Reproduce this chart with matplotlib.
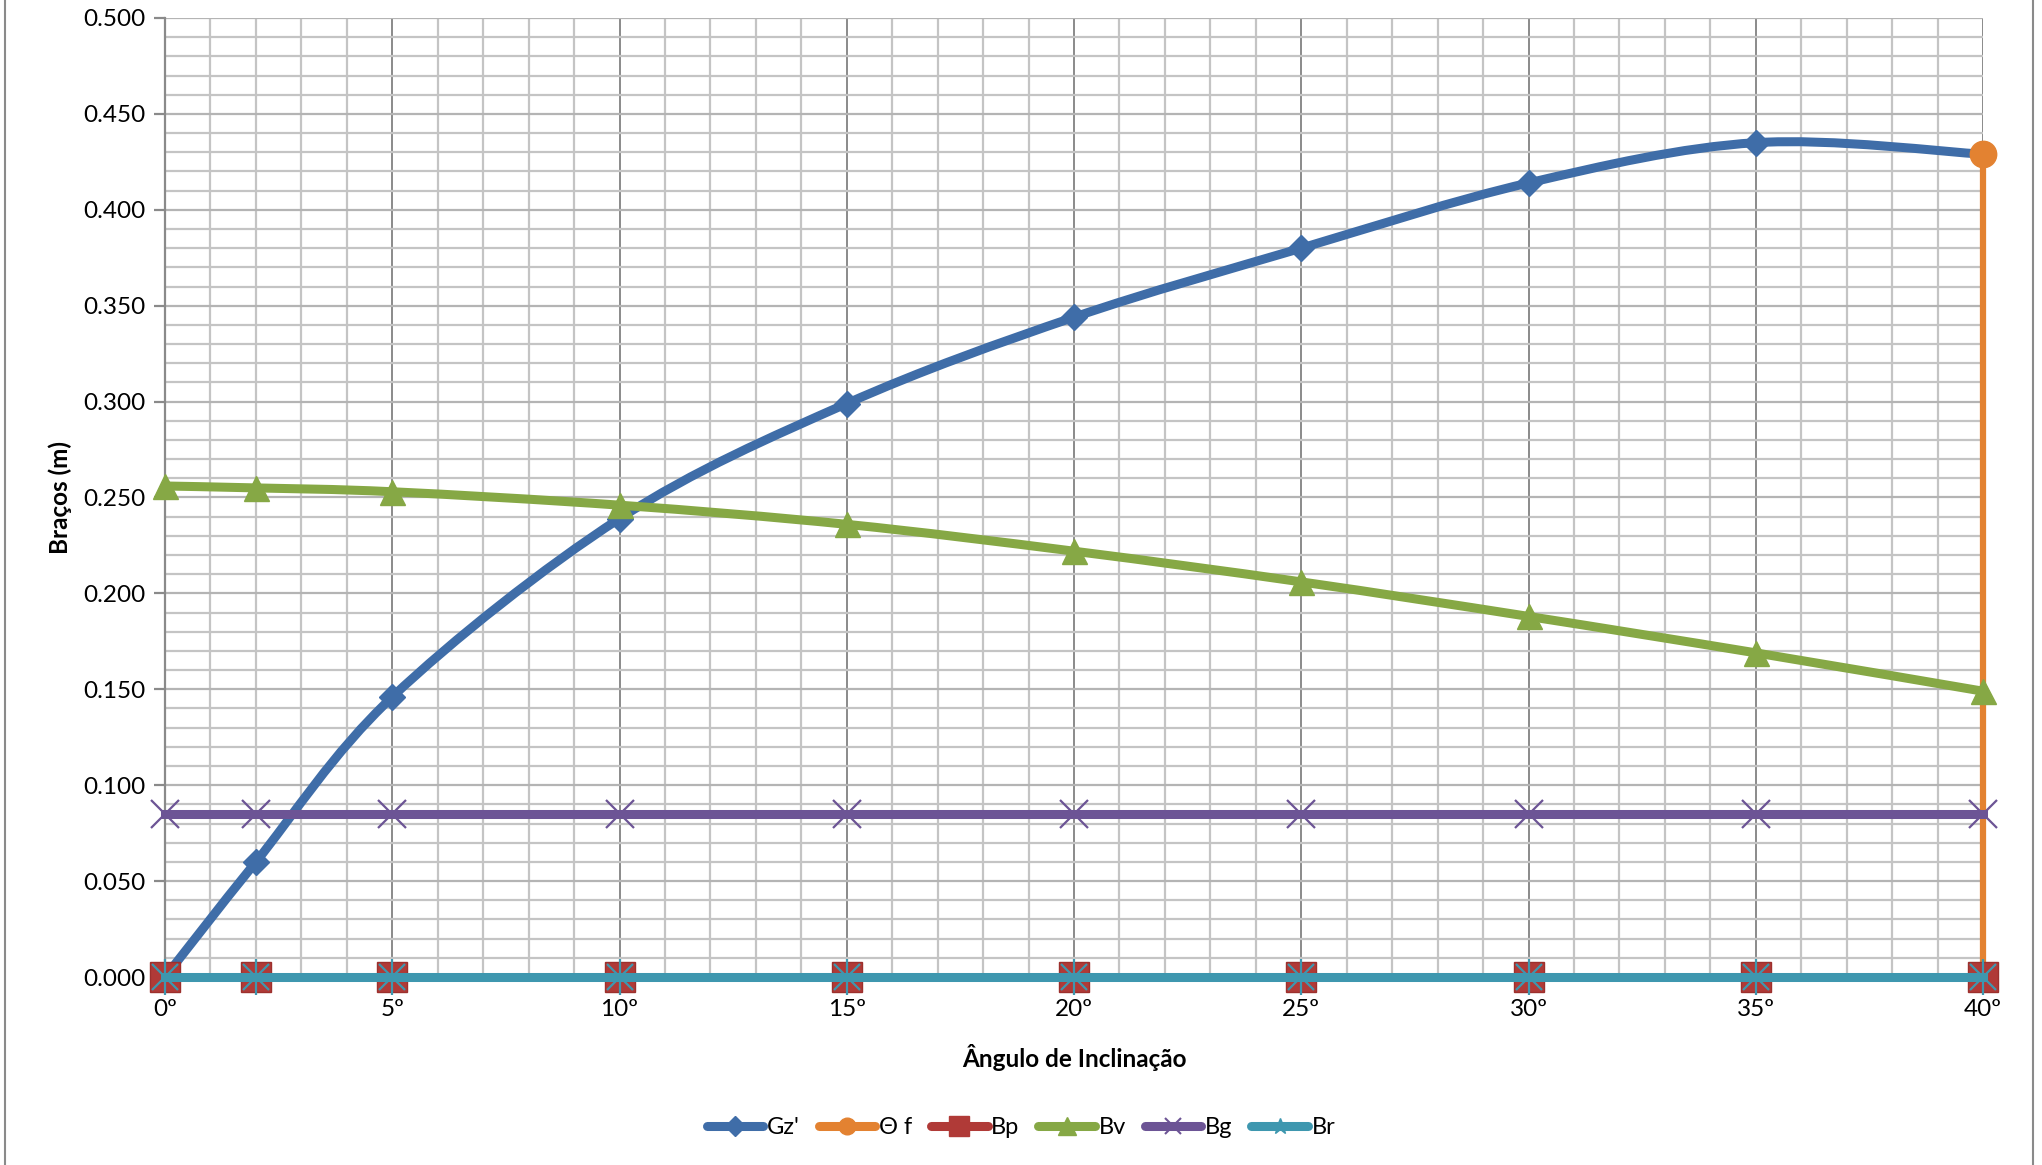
import matplotlib.pyplot as plt
import numpy as np
from matplotlib.path import Path
from matplotlib.patches import PathPatch
from matplotlib.lines import Line2D
from matplotlib.ticker import MultipleLocator, FuncFormatter

plt.rcParams['font.family'] = ['Lato', 'DejaVu Sans']

# data
angles = [0, 2, 5, 10, 15, 20, 25, 30, 35, 40]
gz = [0.000, 0.060, 0.146, 0.239, 0.299, 0.344, 0.380, 0.414, 0.435, 0.429]
bv = [0.256, 0.255, 0.253, 0.246, 0.236, 0.222, 0.206, 0.188, 0.169, 0.149]
bg = [0.085] * len(angles)
bp = [0.0] * len(angles)
br = [0.0] * len(angles)
theta_x = [40, 40]
theta_y = [0.0, 0.429]

c_gz = '#3F6DA8'
c_th = '#E38231'
c_bp = '#B03A37'
c_bv = '#86A845'
c_bg = '#6C5495'
c_br = '#3E97AF'


def smooth_path(x, y):
    # excel-like smoothed line: cubic bezier (catmull-rom control points)
    pts = np.column_stack([x, y]).astype(float)
    n = len(pts)
    verts = [pts[0]]
    codes = [Path.MOVETO]
    for i in range(n - 1):
        p0 = pts[i - 1] if i > 0 else pts[i]
        p1 = pts[i]
        p2 = pts[i + 1]
        p3 = pts[i + 2] if i + 2 < n else pts[i + 1]
        c1 = p1 + (p2 - p0) / 6
        c2 = p2 - (p3 - p1) / 6
        verts += [c1, c2, p2]
        codes += [Path.CURVE4] * 3
    return Path(verts, codes)


fig = plt.figure(figsize=(20.42, 11.65), dpi=100)
ax = fig.add_axes([165 / 2042, 1 - 977 / 1165, (1983 - 165) / 2042, (977 - 18) / 1165])

# grid
ax.set_xlim(0, 40)
ax.set_ylim(0, 0.5)
ax.xaxis.set_major_locator(MultipleLocator(5))
ax.xaxis.set_minor_locator(MultipleLocator(1))
ax.yaxis.set_major_locator(MultipleLocator(0.05))
ax.yaxis.set_minor_locator(MultipleLocator(0.01))
ax.grid(which='minor', color='#C4C4C4', linewidth=1.6)
ax.grid(which='major', axis='y', color='#B4B4B4', linewidth=1.6)
ax.grid(which='major', axis='x', color='#8A8A8A', linewidth=1.4)
ax.set_axisbelow(True)
for s in ['top', 'right', 'bottom']:
    ax.spines[s].set_visible(False)
ax.spines['left'].set_color('#8A8A8A')
ax.spines['left'].set_linewidth(1.6)

ax.xaxis.set_major_formatter(FuncFormatter(lambda v, p: '%dº' % v))
ax.yaxis.set_major_formatter(FuncFormatter(lambda v, p: '%.3f' % v))
ax.tick_params(axis='x', which='both', length=0, pad=16, labelsize=17.5)
ax.tick_params(axis='y', which='major', length=8, width=1.6, color='#8A8A8A', pad=6, labelsize=17.5)
ax.tick_params(axis='y', which='minor', length=0)

lw = 6.5

# Gz'
ax.add_patch(PathPatch(smooth_path(angles, gz), fill=False, edgecolor=c_gz, lw=lw,
                       capstyle='round', joinstyle='round', zorder=3, clip_on=False))
ax.plot(angles, gz, linestyle='none', marker='D', markersize=13, color=c_gz, zorder=3, clip_on=False)

# Theta f
ax.plot(theta_x, theta_y, color=c_th, lw=4.5, marker='o', markersize=19, zorder=4, clip_on=False)

# Bp
ax.plot(angles, bp, linestyle='none', marker='s', markersize=22, color=c_bp,
        markeredgecolor='#9C302D', zorder=5, clip_on=False)

# Bv
ax.add_patch(PathPatch(smooth_path(angles, bv), fill=False, edgecolor=c_bv, lw=lw,
                       capstyle='round', zorder=6, clip_on=False))
ax.plot(angles, bv, linestyle='none', marker='^', markersize=18, color=c_bv, zorder=6, clip_on=False)

# Bg
ax.plot(angles, bg, color=c_bg, lw=lw, zorder=7, clip_on=False)
ax.plot(angles, bg, linestyle='none', marker='x', markersize=20, markeredgewidth=1.6,
        color=c_bg, zorder=7, clip_on=False)

# Br
ax.plot(angles, br, color=c_br, lw=lw, zorder=8, clip_on=False)
ax.plot(angles, br, linestyle='none', marker='x', markersize=19, markeredgewidth=1.6,
        color=c_br, zorder=8, clip_on=False)
ax.plot(angles, br, linestyle='none', marker='|', markersize=26, markeredgewidth=1.6,
        color=c_br, zorder=8, clip_on=False)

ax.set_xlabel('Ângulo de Inclinação', fontsize=17.5, fontweight='bold', labelpad=17)
ax.set_ylabel('Braços (m)', fontsize=17.5, fontweight='bold', labelpad=8)

# legend
handles = [
    Line2D([], [], color=c_gz, lw=lw, marker='D', markersize=10, solid_capstyle='round'),
    Line2D([], [], color=c_th, lw=lw, marker='o', markersize=12, solid_capstyle='round'),
    Line2D([], [], color=c_bp, lw=lw, marker='s', markersize=14, solid_capstyle='round'),
    Line2D([], [], color=c_bv, lw=lw, marker='^', markersize=13, solid_capstyle='round'),
    Line2D([], [], color=c_bg, lw=lw, marker='x', markersize=11, markeredgewidth=1.5, solid_capstyle='round'),
    Line2D([], [], color=c_br, lw=lw, marker='*', markersize=12, solid_capstyle='round'),
]
labels = ["Gz'", 'Θ f', 'Bp', 'Bv', 'Bg', 'Br']
fig.legend(handles, labels, loc='center', bbox_to_anchor=(0.5, 1 - 1128 / 1165),
           ncol=6, frameon=False, fontsize=17, handlelength=2.4, handletextpad=0.15,
           columnspacing=0.8)

# chart area border
fig.add_artist(Line2D([5 / 2042, 5 / 2042], [0, 1], color='#8A8A8A', lw=1.5))
fig.add_artist(Line2D([2033 / 2042, 2033 / 2042], [0, 1], color='#8A8A8A', lw=1.5))

fig.savefig('out.png', dpi=100)
